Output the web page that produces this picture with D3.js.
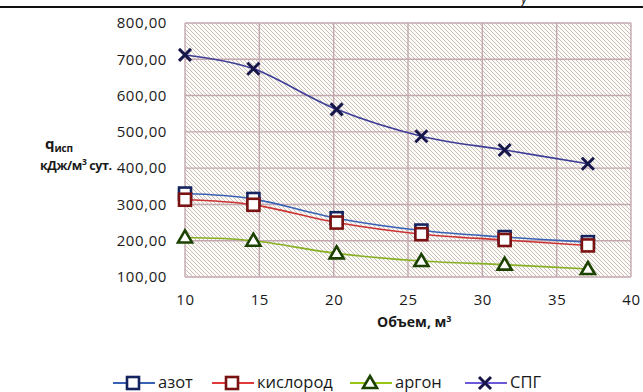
<!DOCTYPE html>
<html><head><meta charset="utf-8">
<script src="https://cdn.jsdelivr.net/npm/d3@7"></script>
<style>body{margin:0;background:#fff}svg{display:block}</style>
</head><body>
<svg id="c" width="643" height="392"></svg>
<script>
const volumes = [10, 14.6, 20.2, 25.9, 31.5, 37.1];
const azot = [330, 315, 262, 228, 210, 196];
const kislorod = [313, 299, 250, 218, 202, 187];
const argon = [209, 200, 165, 144, 134, 122];
const spg = [712, 674, 562, 488, 450, 412];
const xTicks = [10, 15, 20, 25, 30, 35, 40];
const yTicks = [100, 200, 300, 400, 500, 600, 700, 800];
const seriesNames = ["азот", "кислород", "аргон", "СПГ"];

const svg = d3.select("#c");
const font = "'Open Sans', sans-serif";
const L = 185, R = 631, T = 23, B = 277;
const x = d3.scaleLinear().domain([10, 40]).range([L, R]);
const y = d3.scaleLinear().domain([100, 800]).range([B, T]);

// hatch pattern
const defs = svg.append("defs");
const pat = defs.append("pattern").attr("id", "hatch").attr("patternUnits", "userSpaceOnUse")
  .attr("width", 4).attr("height", 4);
pat.append("rect").attr("width", 4).attr("height", 4).attr("fill", "#fcfbf6");
pat.append("path").attr("d", "M-1,-1 L5,5 M-1,3 L1,5 M3,-1 L5,1").attr("stroke", "#c8bebe").attr("stroke-width", 1);

// top line
svg.append("line").attr("x1", 0).attr("x2", 643).attr("y1", 7).attr("y2", 7).attr("stroke", "#111").attr("stroke-width", 2);
svg.append("text").attr("x", 521).attr("y", 3).attr("font-family", font).attr("font-style", "italic")
  .attr("font-size", 14).attr("fill", "#222").text("у");

svg.append("rect").attr("x", L).attr("y", T).attr("width", R - L).attr("height", B - T).attr("fill", "url(#hatch)");

const grid = svg.append("g").attr("stroke", "#c4a8b0").attr("stroke-width", 1.4);
yTicks.forEach(v => grid.append("line").attr("x1", L).attr("x2", R).attr("y1", y(v)).attr("y2", y(v)));
xTicks.forEach(v => grid.append("line").attr("y1", T).attr("y2", B).attr("x1", x(v)).attr("x2", x(v)));

// axes via d3
const yAxis = d3.axisLeft(y).tickValues(yTicks).tickSize(0).tickPadding(18)
  .tickFormat(d => d3.format(".2f")(d).replace(".", ","));
const gy = svg.append("g").attr("transform", `translate(${L},0)`).call(yAxis);
gy.select(".domain").remove();
gy.selectAll("text").attr("font-family", font).attr("font-size", 15).attr("letter-spacing", "0.6px").attr("fill", "#1a1a1a");

const xAxis = d3.axisBottom(x).tickValues(xTicks).tickSize(0).tickPadding(17);
const gx = svg.append("g").attr("transform", `translate(0,${B})`).call(xAxis);
gx.select(".domain").remove();
gx.selectAll("text").attr("font-family", font).attr("font-size", 15).attr("letter-spacing", "0.6px").attr("fill", "#1a1a1a");

// titles
const yt = svg.append("text").attr("font-family", font).attr("font-weight", "bold").attr("font-size", 15).attr("fill", "#1a1a1a");
yt.append("tspan").attr("x", 45).attr("y", 149).text("q");
yt.append("tspan").attr("dy", 3).attr("font-size", 10).attr("letter-spacing", "-0.2px").text("исп");
const yt2 = svg.append("text").attr("font-family", font).attr("font-weight", "bold").attr("font-size", 12.5)
  .attr("letter-spacing", "-0.4px").attr("fill", "#1a1a1a").attr("x", 40).attr("y", 170);
yt2.append("tspan").text("кДж/м");
yt2.append("tspan").attr("dy", -5).attr("font-size", 8.5).text("3");
yt2.append("tspan").attr("dy", 5).text(" сут.");

const xt = svg.append("text").attr("font-family", font).attr("font-weight", "bold").attr("font-size", 14).attr("fill", "#1a1a1a")
  .attr("x", 377).attr("y", 327);
xt.append("tspan").text("Объем, м");
xt.append("tspan").attr("dy", -5).attr("font-size", 9).text("3");

// series
const series = [
  {name: seriesNames[0], vals: azot, line: "#3a62b4", mk: "#15235e", type: "sq"},
  {name: seriesNames[1], vals: kislorod, line: "#cc3333", mk: "#7a1212", type: "sq"},
  {name: seriesNames[2], vals: argon, line: "#86b022", mk: "#1c4200", type: "tri"},
  {name: seriesNames[3], vals: spg, line: "#3e3e96", mk: "#16164a", type: "x"}
];
const lineGen = d3.line().x(d => x(d[0])).y(d => y(d[1])).curve(d3.curveCatmullRom.alpha(0));

function marker(g, type, cx, cy, col) {
  if (type === "sq") {
    g.append("rect").attr("x", cx - 6).attr("y", cy - 6).attr("width", 12).attr("height", 12)
      .attr("fill", "#fff").attr("stroke", col).attr("stroke-width", 2.6);
  } else if (type === "tri") {
    g.append("path").attr("d", `M${cx},${cy - 7} L${cx + 7},${cy + 5} L${cx - 7},${cy + 5} Z`)
      .attr("fill", "#fff").attr("stroke", col).attr("stroke-width", 2.6).attr("stroke-linejoin", "miter");
  } else {
    g.append("path").attr("d", `M${cx - 6},${cy - 6} L${cx + 6},${cy + 6} M${cx - 6},${cy + 6} L${cx + 6},${cy - 6}`)
      .attr("stroke", col).attr("stroke-width", 3);
  }
}

series.forEach(s => {
  const pts = volumes.map((v, i) => [v, s.vals[i]]);
  svg.append("path").attr("d", lineGen(pts)).attr("fill", "none").attr("stroke", s.line).attr("stroke-width", 1.6);
});
series.forEach(s => {
  const g = svg.append("g");
  volumes.forEach((v, i) => marker(g, s.type, x(v), y(s.vals[i]), s.mk));
});

// legend
const legX = [113, 212, 350, 465];
const legY = 383;
const legendLine = ["#3a62b4", "#e03a3a", "#98c414", "#6a5ad8"];
series.forEach((s, i) => {
  const g = svg.append("g");
  g.append("line").attr("x1", legX[i]).attr("x2", legX[i] + 42).attr("y1", legY).attr("y2", legY)
    .attr("stroke", legendLine[i]).attr("stroke-width", 1.8);
  marker(g, s.type, legX[i] + 20, legY, s.mk);
  g.append("text").attr("x", legX[i] + 45).attr("y", 387.5).attr("font-family", font).attr("font-size", 16.5)
    .attr("fill", "#1a1a1a").text(s.name);
});
</script>
</body></html>
